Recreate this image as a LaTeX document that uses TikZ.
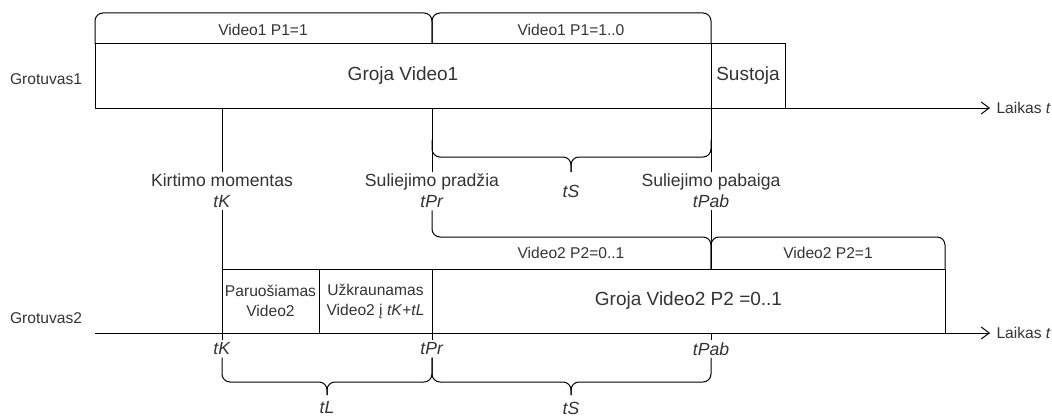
\documentclass[tikz,border=0pt]{standalone}
\usepackage{fontspec}
\setmainfont{Liberation Sans}
\usetikzlibrary{arrows.meta,positioning}
\newcommand{\fsmall}{\fontsize{15.6}{20}\selectfont}
\newcommand{\fmid}{\fontsize{17.6}{21}\selectfont}
\newcommand{\fbig}{\fontsize{19}{23}\selectfont}

\begin{document}
\begin{tikzpicture}[
  x=1pt, y=-1pt,
  line width=1pt,
  every node/.style={align=center, inner sep=2pt, text=black!80},
  lane/.style={draw, minimum height=64pt, inner sep=0pt, outer sep=0pt, font=\fbig},
  part/.style={draw, minimum height=64pt, inner sep=0pt, outer sep=0pt, font=\fsmall},
  small/.style={font=\fsmall},
  tlabel/.style={font=\fmid},
  bar/.style={rounded corners=8pt},
  >={Straight Barb[length=8pt,width=12pt]}
]
\useasboundingbox (0,0) rectangle (1052,420);

% Grotuvas1
\node[small] (g1) at (46,79) {Grotuvas1};
\node[lane, minimum width=616pt] (groja1) at (403,76) {Groja Video1};
\node[lane, minimum width=74pt, right=0pt of groja1] (sustoja) {Sustoja};
\coordinate (ax1) at (95,108);
\node[small, anchor=west, inner xsep=6pt] (laikas1) at (990,108) {Laikas \textit{t}};
\draw[->] (ax1) -- (laikas1.west);

% P1 phases
\coordinate (s1) at (432,44);
\draw[bar] (groja1.north west) -- ++(0,-31) -| (s1);
\draw[bar] (s1) -- ++(0,-31) -| (groja1.north east);
\node[small] (p1a) at (263,30) {Video1 P1=1};
\node[small] (p1b) at (571,30) {Video1 P1=1..0};

% momentai
\node[tlabel] (kirt) at (222,191) {Kirtimo momentas\\\textit{tK}};
\node[tlabel] (prad) at (432,191) {Suliejimo pradžia\\\textit{tPr}};
\node[tlabel] (pab) at (711,191) {Suliejimo pabaiga\\\textit{tPab}};
\draw (groja1.south west -| kirt) -- (kirt);
\draw (groja1.south west -| prad) -- (prad);
\draw (groja1.south east) -- (pab);

% tS virsuje
\node[tlabel] (tS1) at (571,191) {\textit{tS}};
\draw[bar] (432,140) |- (571,157) -- (571,172);
\draw[bar] (711,140) |- (571,157) -- (571,172);

% Grotuvas2
\node[small] (g2) at (46,318) {Grotuvas2};
\node[part, minimum width=97pt] (paru) at (270.5,301) {Paruošiamas\\Video2};
\node[part, minimum width=113pt, right=0pt of paru] (uzkr) {Užkraunamas\\Video2 į \textit{tK}+\textit{tL}};
\node[lane, minimum width=513pt, right=0pt of uzkr] (groja2) {Groja Video2 P2 =0..1};
\coordinate (ax2) at (95,333);
\node[small, anchor=west, inner xsep=6pt] (laikas2) at (990,333) {Laikas \textit{t}};
\draw[->] (ax2) -- (laikas2.west);
\draw (kirt) -- (paru.north west);

% P2 phases
\coordinate (s2) at (711,269);
\draw[bar] (prad) -- (432,237) -| (s2);
\draw[bar] (s2) -- (711,237) -| (groja2.north east);
\draw (pab) -- (s2);
\node[small] (p2a) at (571,253) {Video2 P2=0..1};
\node[small] (p2b) at (828,253) {Video2 P2=1};

% apacia
\node[tlabel] (tK2) at (222,349) {\textit{tK}};
\node[tlabel] (tPr2) at (432,349) {\textit{tPr}};
\node[tlabel] (tPab2) at (711,349) {\textit{tPab}};
\draw (paru.south west) -- (tK2);
\draw (groja2.south west) -- (tPr2);
\draw (s2 |- groja2.south) -- (tPab2);
\node[tlabel] (tL) at (327,408) {\textit{tL}};
\node[tlabel] (tS2) at (571,408) {\textit{tS}};
\draw[bar] (tK2.south) |- (327,382) -- (327,395);
\draw[bar] (tPr2.south) |- (327,382) -- (327,395);
\draw[bar] (tPr2.south) |- (571,382) -- (571,395);
\draw[bar] (tPab2.south) |- (571,382) -- (571,395);
\end{tikzpicture}
\end{document}
